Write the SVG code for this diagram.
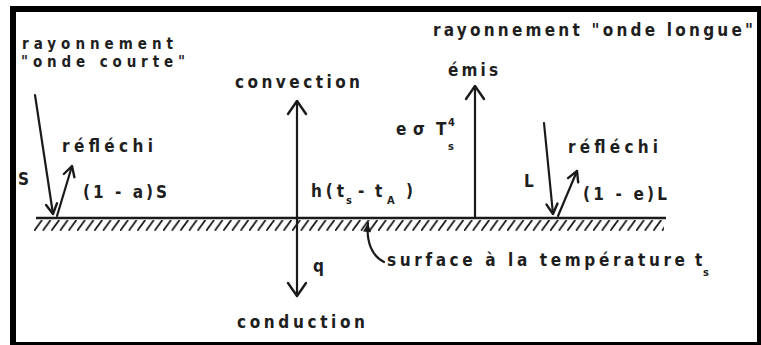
<svg xmlns="http://www.w3.org/2000/svg" width="761" height="345" viewBox="0 0 761 345">
<style>
.t{font-family:"DejaVu Sans Condensed","DejaVu Sans",sans-serif;font-weight:bold;font-size:17px;fill:#1e1e1e}
.sm{font-size:15px}
.sub{font-size:11px}
.ln{stroke:#1a1a1a;stroke-width:2.2;fill:none;stroke-linecap:round}
</style>
<defs>
<marker id="big" viewBox="-15 -11 17 22" markerWidth="17" markerHeight="22" refX="0" refY="0" orient="auto" markerUnits="userSpaceOnUse">
<path d="M-13,-9 L0,0 L-13,9" fill="none" stroke="#1a1a1a" stroke-width="2.4" stroke-linecap="round" stroke-linejoin="round"/>
</marker>
<marker id="small" viewBox="-12 -8 14 16" markerWidth="14" markerHeight="16" refX="0" refY="0" orient="auto" markerUnits="userSpaceOnUse">
<path d="M-10,-5.5 L0,0 L-10,5.5" fill="none" stroke="#1a1a1a" stroke-width="2.4" stroke-linecap="round" stroke-linejoin="round"/>
</marker>
<marker id="fillhead" viewBox="-10 -6 12 12" markerWidth="12" markerHeight="12" refX="0" refY="0" orient="auto" markerUnits="userSpaceOnUse">
<path d="M-9,-4 L0,0 L-9,4 z" fill="#1a1a1a"/>
</marker>
<pattern id="hatch" patternUnits="userSpaceOnUse" x="34" y="220" width="8.6" height="11">
<path d="M0,11 L8,0" stroke="#1a1a1a" stroke-width="1.8"/>
</pattern>
</defs>
<rect x="0" y="0" width="761" height="345" fill="#ffffff"/>
<g id="frame" fill="#000">
<rect x="10" y="6" width="751" height="6"/>
<rect x="10" y="6" width="6" height="339"/>
<rect x="757" y="6" width="4" height="339"/>
<rect x="10" y="342" width="751" height="3"/>
</g>
<g id="surface">
<rect x="34" y="220" width="630" height="11" fill="url(#hatch)"/>
<line x1="36" y1="218" x2="666" y2="218" stroke="#1a1a1a" stroke-width="2.6"/>
</g>
<g id="connectors">
<path class="ln" d="M297,218 L297,101" marker-end="url(#big)"/>
<path class="ln" d="M297,218 L297,296" marker-end="url(#big)"/>
<path class="ln" d="M475,218 L475,86" marker-end="url(#big)"/>
<path class="ln" d="M35,95 L53,214" marker-end="url(#small)"/>
<path class="ln" d="M57,216 L72,166" marker-end="url(#small)"/>
<path class="ln" d="M544,123 L553,214" marker-end="url(#small)"/>
<path class="ln" d="M558,216 L577,171" marker-end="url(#small)"/>
<path class="ln" stroke-width="1.8" d="M384,262 C372,256 366,242 368,223" marker-end="url(#fillhead)"/>
</g>
<g id="short-wave">
<text class="t sm" x="22" y="49" textLength="151" lengthAdjust="spacing">rayonnement</text>
<text class="t sm" x="21" y="67" textLength="164" lengthAdjust="spacing">"onde courte"</text>
<text class="t" x="18" y="185">S</text>
<text class="t" x="62" y="152" textLength="91" lengthAdjust="spacing">réfléchi</text>
<text class="t" x="83" y="198" textLength="84" lengthAdjust="spacing">(1 - a)S</text>
</g>
<g id="convection">
<text class="t" x="235" y="88" textLength="125" lengthAdjust="spacing">convection</text>
<text class="t" x="311" y="197" textLength="33" lengthAdjust="spacing">h(t</text>
<text class="t sub" x="346" y="204">s</text>
<text class="t" x="358" y="197">-</text>
<text class="t" x="375" y="197">t</text>
<text class="t sub" x="387" y="204">A</text>
<text class="t" x="406" y="197">)</text>
</g>
<g id="conduction">
<text class="t" x="313" y="272">q</text>
<text class="t" x="237" y="328" textLength="128" lengthAdjust="spacing">conduction</text>
</g>
<g id="long-wave">
<text class="t" x="433" y="36" textLength="320" lengthAdjust="spacing">rayonnement "onde longue"</text>
<text class="t" x="448" y="76" textLength="50" lengthAdjust="spacing">émis</text>
<text class="t" x="396" y="135">e</text>
<text class="t" x="413" y="135">σ</text>
<text class="t" x="436" y="135">T</text>
<text class="t sub" x="448" y="126">4</text>
<text class="t sub" x="448" y="150">s</text>
<text class="t" x="524" y="187">L</text>
<text class="t" x="568" y="153" textLength="90" lengthAdjust="spacing">réfléchi</text>
<text class="t" x="583" y="200" textLength="84" lengthAdjust="spacing">(1 - e)L</text>
</g>
<g id="surface-label">
<text class="t" x="387" y="266" textLength="298" lengthAdjust="spacing">surface à la température</text>
<text class="t" x="695" y="266">t</text>
<text class="t sub" x="703" y="276">s</text>
</g>
</svg>
